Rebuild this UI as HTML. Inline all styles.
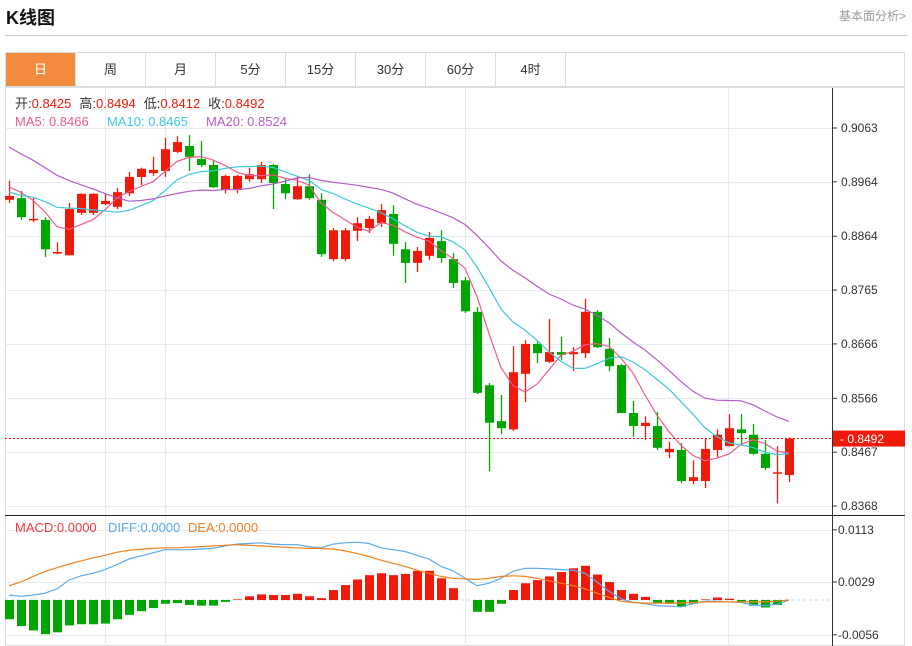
<!DOCTYPE html>
<html><head><meta charset="utf-8">
<style>
body{margin:0;width:912px;height:646px;background:#fff;font-family:"Liberation Sans","Noto Sans CJK SC",sans-serif;overflow:hidden;position:relative}
.title{position:absolute;left:6px;top:4px;font-size:18px;font-weight:bold;color:#111}
.more{position:absolute;right:6px;top:7px;font-size:12px;color:#999}
.hr{position:absolute;left:5px;top:35px;width:903px;height:1px;background:#ccc}
.tabs{position:absolute;left:5px;top:52px;width:900px;height:35px;border:1px solid #ddd;box-sizing:border-box;display:flex}
.tab{width:70px;height:33px;line-height:33px;text-align:center;font-size:13px;color:#333;border-right:1px solid #ddd;box-sizing:border-box}
.tab.on{background:#f38b3f;color:#fff}
svg{position:absolute;left:0;top:0}
</style></head><body>
<div class="title">K线图</div>
<div class="more">基本面分析&gt;</div>
<div class="hr"></div>
<div class="tabs">
<div class="tab on">日</div>
<div class="tab">周</div>
<div class="tab">月</div>
<div class="tab">5分</div>
<div class="tab">15分</div>
<div class="tab">30分</div>
<div class="tab">60分</div>
<div class="tab">4时</div>
</div>
<svg id="chart" width="912" height="646"></svg>
<script>
const opens=[.8931,.8934,.8894,.8894,.8833,.8829,.8907,.8907,.8923,.8918,.8943,.8973,.8980,.8984,.9019,.9030,.9006,.8995,.8949,.8949,.8969,.8969,.8995,.8960,.8932,.8956,.8931,.8822,.8822,.8874,.8879,.8888,.8905,.8840,.8815,.8828,.8855,.8822,.8783,.8725,.8590,.8524,.8509,.8611,.8666,.8633,.8651,.8647,.8649,.8725,.8657,.8627,.8539,.8515,.8515,.8467,.8471,.8414,.8414,.8471,.8478,.8509,.8499,.8464,.8429,.8425];
const highs=[.8966,.8947,.8934,.8899,.8853,.8925,.8943,.8943,.8943,.8953,.8982,.8990,.9010,.9045,.9048,.9050,.9039,.9004,.8977,.8977,.8990,.9001,.8997,.8971,.8973,.8978,.8943,.8879,.8879,.8899,.8901,.8923,.8921,.8853,.8844,.8872,.8875,.8833,.8789,.8734,.8594,.8572,.8662,.8673,.8671,.8712,.8679,.8660,.8749,.8728,.8677,.8629,.8561,.8533,.8541,.8486,.8484,.8452,.8493,.8509,.8537,.8537,.8519,.8489,.8478,.8494];
const lows=[.8925,.8894,.8890,.8826,.8831,.8829,.8903,.8903,.8921,.8914,.8938,.8958,.8975,.8973,.9017,.8984,.8991,.8953,.8943,.8943,.8964,.8962,.8914,.8932,.8931,.8931,.8826,.8818,.8818,.8855,.8870,.8881,.8828,.8778,.8798,.8820,.8815,.8769,.8723,.8574,.8432,.8500,.8506,.8559,.8631,.8631,.8636,.8616,.8640,.8658,.8616,.8539,.8495,.8489,.8471,.8456,.8410,.8408,.8401,.8458,.8478,.8480,.8462,.8434,.8373,.8412];
const closes=[.8938,.8899,.8896,.8840,.8835,.8914,.8942,.8942,.8929,.8945,.8973,.8988,.8986,.9024,.9037,.9010,.8995,.8954,.8975,.8975,.8978,.8995,.8962,.8943,.8956,.8934,.8831,.8875,.8875,.8888,.8896,.8912,.8850,.8815,.8837,.8861,.8824,.8778,.8726,.8576,.8521,.8511,.8614,.8666,.8649,.8651,.8646,.8651,.8725,.8660,.8625,.8539,.8515,.8521,.8475,.8473,.8414,.8421,.8473,.8499,.8511,.8502,.8464,.8438,.8430,.8492];
const prevCloses=[.9150,.9130,.9120,.9110,.9100,.9105,.9095,.9100,.9100,.9098,.8960,.8930,.8920,.8940,.8928,.8950,.8970,.8946,.8970];
const priceTicks=[0.9063,0.8964,0.8864,0.8765,0.8666,0.8566,0.8467,0.8368];
const macdHist=[-.0031,-.0042,-.0049,-.0055,-.0052,-.0041,-.0039,-.0039,-.0038,-.0031,-.0024,-.0018,-.0013,-.0006,-.0005,-.0008,-.0009,-.0009,-.0003,.0001,.0006,.0009,.0008,.0008,.0010,.0006,.0003,.0016,.0024,.0033,.0040,.0043,.0040,.0042,.0047,.0047,.0035,.0019,0,-.0019,-.0019,-.0006,.0016,.0027,.0032,.0038,.0045,.0051,.0055,.0041,.0029,.0016,.0010,.0005,-.0004,-.0006,-.0011,-.0006,.0001,.0004,.0002,-.0004,-.0009,-.0012,-.0008,0];
const diffLine=[.0008,.0006,.0008,.0011,.0018,.0032,.0039,.0043,.0049,.0057,.0066,.0071,.0076,.0081,.0081,.0081,.0082,.0083,.0087,.0090,.0091,.0092,.0090,.0089,.0089,.0086,.0084,.0090,.0092,.0093,.0091,.0084,.0081,.0078,.0072,.0066,.0054,.0047,.0035,.0023,.0027,.0035,.0046,.0051,.0051,.0050,.0049,.0048,.0043,.0029,.0014,.0002,-.0004,-.0006,-.0009,-.0010,-.0011,-.0006,-.0002,-.0002,-.0003,-.0004,-.0008,-.0009,-.0007,0];
const deaLine=[.0023,.0029,.0038,.0046,.0052,.0058,.0063,.0068,.0072,.0077,.0080,.0082,.0083,.0084,.0084,.0085,.0086,.0087,.0088,.0089,.0088,.0087,.0086,.0085,.0084,.0083,.0083,.0082,.0079,.0075,.0070,.0064,.0059,.0054,.0048,.0043,.0038,.0035,.0034,.0033,.0035,.0038,.0039,.0038,.0035,.0031,.0027,.0023,.0018,.0011,.0004,-.0002,-.0004,-.0005,-.0005,-.0005,-.0005,-.0004,-.0003,-.0003,-.0003,-.0003,-.0003,-.0003,-.0002,0];
const macdTicks=[0.0113,0.0029,-0.0056];

const NS='http://www.w3.org/2000/svg';
const svg=document.getElementById('chart');
const RED='#f01a0a',GREEN='#00a600';
function px(p){return 128+(0.9063-p)*(506-128)/(0.9063-0.8368);}
function mx(v){return 600-v*(635-530)/(0.0113+0.0056);}
function cx(i){return 9+12*i;}
function el(tag,attrs,parent){const e=document.createElementNS(NS,tag);for(const k in attrs)e.setAttribute(k,attrs[k]);(parent||svg).appendChild(e);return e;}

// frame
const frame=el('rect',{x:5.5,y:87.5,width:899,height:558,fill:'none',stroke:'#ddd'});


// grid
const grid=el('g',{stroke:'#e3ecf3','stroke-width':1});


priceTicks.forEach(t=>{el('line',{x1:5,x2:832,y1:Math.round(px(t))+.5,y2:Math.round(px(t))+.5},grid);});
macdTicks.forEach(t=>{el('line',{x1:5,x2:832,y1:Math.round(mx(t))+.5,y2:Math.round(mx(t))+.5},grid);});
[105,165,465,728].forEach(x=>{el('line',{x1:x+.5,x2:x+.5,y1:88,y2:646},grid);});
// axes
el('line',{x1:832.5,x2:832.5,y1:88,y2:646,stroke:'#333'});
el('line',{x1:5,x2:905,y1:515.5,y2:515.5,stroke:'#222'});
const yAxis=el('g',{'font-size':12,fill:'#333','font-family':'Liberation Sans'});


priceTicks.forEach(t=>{const y=px(t);el('line',{x1:832,x2:837,y1:y,y2:y,stroke:'#333'},yAxis);const tx=el('text',{x:841,y:y+4},yAxis);tx.textContent=t.toFixed(4);});
const mAxis=el('g',{'font-size':12,fill:'#333','font-family':'Liberation Sans'});


macdTicks.forEach(t=>{const y=mx(t);el('line',{x1:832,x2:837,y1:y,y2:y,stroke:'#333'},mAxis);const tx=el('text',{x:838,y:y+4},mAxis);tx.textContent=t.toFixed(4);});

// candles
const cg=el('g',{});


closes.forEach((c,i)=>{
  const o=opens[i],up=c>=o,col=up?RED:GREEN,x=cx(i);
  const g=el('g',{},cg);
  
  
  el('line',{x1:x+.5,x2:x+.5,y1:px(highs[i]),y2:px(lows[i]),stroke:col,'stroke-width':1.3},g);
  const top=px(Math.max(o,c)),bot=px(Math.min(o,c));
  el('rect',{x:x-4,y:top,width:9,height:Math.max(1.5,bot-top),fill:col},g);
});
// MAs
const all=prevCloses.concat(closes);
function ma(n){return closes.map((_,i)=>{const j=i+prevCloses.length;let s=0;for(let k=j-n+1;k<=j;k++)s+=all[k];return s/n;});}
[[5,'#ef5b8b','ma5-line'],[10,'#3dc8dc','ma10-line'],[20,'#b45dc8','ma20-line']].forEach(([n,col,name])=>{
  const v=ma(n);
  const p=el('path',{d:v.map((m,i)=>(i?'L':'M')+cx(i)+','+px(m).toFixed(1)).join(''),fill:'none',stroke:col,'stroke-width':1.2});
  
  
});
// last price line
const last=closes[closes.length-1];
const lp=el('line',{x1:5,x2:832,y1:px(last),y2:px(last),stroke:RED,'stroke-dasharray':'2,2'});


const tag=el('rect',{x:833,y:px(last)-8,width:72,height:16,fill:RED});


const tt=el('text',{x:840,y:px(last)+4.5,'font-size':12,fill:'#fff','font-family':'Liberation Sans'});tt.textContent='- '+last.toFixed(4);
// MACD
el('line',{x1:5,x2:832,y1:mx(0),y2:mx(0),stroke:'#b8dcf0','stroke-dasharray':'3,3'});
const hg=el('g',{});


macdHist.forEach((v,i)=>{
  const y0=mx(0),y1=mx(v);
  const r=el('rect',{x:cx(i)-4,y:Math.min(y0,y1),width:9,height:Math.abs(y1-y0),fill:v>=0?RED:GREEN},hg);
  
  
});
[[diffLine,'#5aaaf0','diff-line'],[deaLine,'#f5801f','dea-line']].forEach(([arr,col,name])=>{
  const p=el('path',{d:arr.map((v,i)=>(i?'L':'M')+cx(i)+','+mx(v).toFixed(1)).join(''),fill:'none',stroke:col,'stroke-width':1.2});
  
  
});
// legends
function txt(x,y,s,col,name){const t=el('text',{x:x,y:y,'font-size':13,fill:col,'font-family':'Liberation Sans, Noto Sans CJK SC, sans-serif'});t.textContent=s;return t;}
const o=txt(15,108,'','#333','ohlc-legend');
o.innerHTML='<tspan>开:</tspan><tspan fill="'+RED+'">0.8425</tspan><tspan dx="8">高:</tspan><tspan fill="'+RED+'">0.8494</tspan><tspan dx="8">低:</tspan><tspan fill="'+RED+'">0.8412</tspan><tspan dx="8">收:</tspan><tspan fill="'+RED+'">0.8492</tspan>';
txt(15,126,'MA5: 0.8466','#ef5b8b','ma5-legend');
txt(107,126,'MA10: 0.8465','#3dc8dc','ma10-legend');
txt(206,126,'MA20: 0.8524','#b45dc8','ma20-legend');
txt(15,532,'MACD:0.0000','#ef3b3b','macd-legend');
txt(108,532,'DIFF:0.0000','#5aaaf0','diff-legend');
txt(188,532,'DEA:0.0000','#f5801f','dea-legend');
</script>
</body></html>
